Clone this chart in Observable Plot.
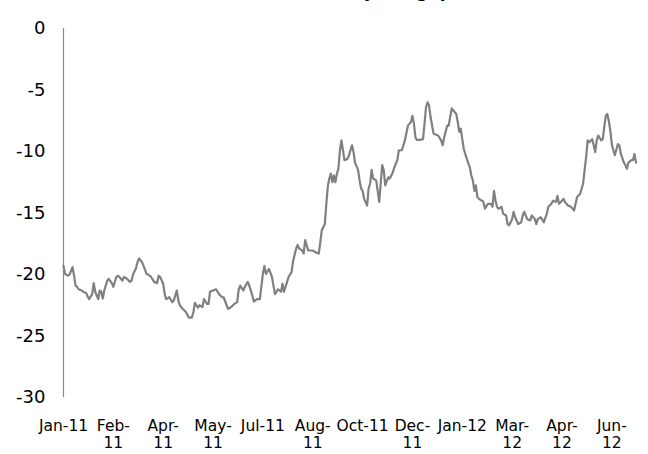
<!DOCTYPE html>
<html>
<head>
<meta charset="utf-8">
<script src="https://cdn.jsdelivr.net/npm/d3@7"></script>
<script src="https://cdn.jsdelivr.net/npm/@observablehq/plot@0.6"></script>
<style>
  html, body { margin: 0; padding: 0; background: #fff; }
  #chart svg { display: block; }
</style>
</head>
<body>
<div id="chart"></div>
<script>
// Trading-day index (position along the category axis) and spread value (%)
const dayIdx = [
  0,1,3,4,6,7,8,9,10,12,13,15,16,17,19,20,21,23,24,25,26,27,29,30,32,33,35,36,37,39,40,42,44,45,46,48,49,50,52,53,55,56,58,60,62,63,
  64,66,67,68,70,72,73,75,76,77,79,81,83,85,86,87,89,90,92,93,95,96,97,99,101,103,105,106,108,109,111,113,115,116,117,119,120,122,123,125,
  126,128,130,132,133,134,136,138,139,140,142,144,145,146,148,149,151,152,154,155,156,158,159,160,162,163,165,167,169,170,171,172,173,174,175,176,177,178,179,180,181,182,183,184,185,186,188,189,
  191,192,193,195,196,197,198,199,201,202,203,204,205,207,208,209,210,211,212,213,215,216,218,219,221,222,224,225,226,228,229,230,231,232,233,234,236,238,239,240,241,242,
  243,245,248,250,251,252,254,255,256,257,258,260,261,262,263,264,265,267,269,270,271,272,273,274,275,277,278,279,281,283,284,285,286,287,288,290,291,293,294,295,297,298,299,301,303,304,305,307,309,310,312,313,314,316,318,320,321,323,324,326,327,328,330,331,332,334,336,338,339,340,342,344,345,346,347,348,350,351,352,353,354,356,357,358,359,360,361,362,363,364,365,367,368,369,371,372,373,374,376,377,378,379
];
const spread = [
  -19.3,-19.95,-20.1,-20.0,-19.4,-20.1,-20.9,-21.0,-21.2,-21.3,-21.4,-21.5,-21.8,-22.0,-21.6,-20.7,-21.4,-22.0,-21.3,-21.4,-21.95,-21.3,-20.5,-20.35,-20.7,-21.0,-20.2,-20.1,-20.2,-20.5,-20.2,-20.35,-20.6,-20.5,-20.0,-19.5,-19.0,-18.7,-19.0,-19.3,-19.95,-20.0,-20.2,-20.6,-20.7,-20.1,
  -20.2,-20.75,-21.6,-22.0,-21.85,-22.25,-22.1,-21.3,-22.1,-22.5,-22.8,-23.05,-23.5,-23.5,-23.05,-22.3,-22.7,-22.5,-22.65,-22.0,-22.4,-22.4,-21.4,-21.3,-21.2,-21.6,-21.85,-21.85,-22.5,-22.8,-22.65,-22.4,-22.25,-21.2,-20.9,-21.3,-21.0,-20.6,-20.9,-21.7,
  -22.2,-22.0,-22.0,-19.95,-19.3,-19.95,-19.55,-20.2,-20.9,-21.6,-21.2,-21.4,-20.75,-21.4,-20.6,-20.2,-19.8,-18.9,-17.9,-17.6,-17.9,-18.05,-18.3,-17.2,-18.05,-18.05,-18.05,-18.2,-18.3,-17.4,-16.4,-16.15,-15.9,-14.25,-12.8,-12.2,-11.8,-12.5,-11.95,-12.5,-11.8,-11.4,-9.9,-9.1,-9.9,-10.7,-10.6,-10.3,
  -9.5,-10.05,-10.9,-11.5,-12.35,-13.0,-13.2,-13.85,-14.4,-13.0,-12.6,-11.5,-12.2,-12.35,-13.2,-14.1,-12.6,-11.1,-11.5,-12.75,-12.1,-12.2,-11.7,-11.3,-10.7,-9.9,-9.9,-9.5,-9.1,-7.9,-7.75,-7.6,-7.1,-7.75,-8.85,-9.05,-9.05,-9.0,-7.75,-6.4,-6.0,-6.25,
  -7.2,-8.55,-8.7,-9.1,-9.5,-8.85,-7.9,-7.9,-7.2,-6.5,-6.65,-6.95,-7.6,-8.4,-8.15,-9.0,-9.8,-10.6,-11.3,-11.95,-12.35,-13.2,-12.75,-13.7,-13.85,-14.0,-14.1,-14.65,-14.25,-14.25,-14.5,-13.2,-14.0,-14.5,-14.65,-14.5,-15.05,-15.2,-15.9,-16.0,-15.5,-14.9,-15.35,-15.9,-15.75,-15.2,-14.9,-15.5,-15.6,-15.2,-15.5,-15.9,-15.5,-15.35,-15.75,-15.05,-14.5,-14.25,-14.0,-14.1,-13.6,-14.25,-14.0,-13.85,-14.1,-14.4,-14.5,-14.8,-14.25,-13.7,-13.45,-12.6,-11.5,-10.45,-9.1,-9.25,-9.0,-9.5,-10.05,-9.1,-8.7,-9.1,-9.0,-8.0,-7.1,-6.95,-7.5,-8.3,-9.4,-9.9,-10.3,-9.4,-9.5,-10.2,-10.9,-11.1,-11.4,-10.9,-10.7,-10.7,-10.2,-10.9
];

// Category axis labels
const tickIdx = [0,33,66,99,132,165,198,231,264,297,330,363];
const tickLabels = ["Jan-11","Feb-\n11","Apr-\n11","May-\n11","Jul-11","Aug-\n11","Oct-11","Dec-\n11","Jan-12","Mar-\n12","Apr-\n12","Jun-\n12"];
const yTicks = [-30,-25,-20,-15,-10,-5,0];
const titleText = "Relative real yield gap (%)";

const data = dayIdx.map((d, i) => ({idx: d, v: spread[i]}));
const labelOf = new Map(tickIdx.map((d, i) => [d, tickLabels[i]]));

const chart = Plot.plot({
  width: 648,
  height: 454,
  marginLeft: 63,
  marginRight: 11,
  marginTop: 28,
  marginBottom: 57,
  style: {fontFamily: "'DejaVu Sans', sans-serif", color: "#000", background: "#fff"},
  x: {domain: [0, 380], axis: null},
  y: {domain: [-30, 0], axis: null},
  marks: [
    Plot.ruleX([0], {y1: -30, y2: 0, stroke: "#888", strokeWidth: 1.2}),
    Plot.axisY({ticks: yTicks, label: null, tickSize: 0, tickPadding: 18, fontSize: 18, tickFormat: d => String(d), fill: "#000"}),
    Plot.axisX({ticks: tickIdx, label: null, tickSize: 0, tickPadding: 22, fontSize: 15.5, lineHeight: 1.08,
      tickFormat: d => labelOf.get(d), fill: "#000"}),
    Plot.line(data, {x: "idx", y: "v", stroke: "#808080", strokeWidth: 2.2}),
    Plot.text([titleText], {frameAnchor: "top-right", dx: -147, dy: -32, textAnchor: "end",
      lineAnchor: "bottom", fontSize: 17, fontWeight: "bold", fill: "#000"})
  ]
});
document.getElementById("chart").appendChild(chart);
</script>
</body>
</html>
